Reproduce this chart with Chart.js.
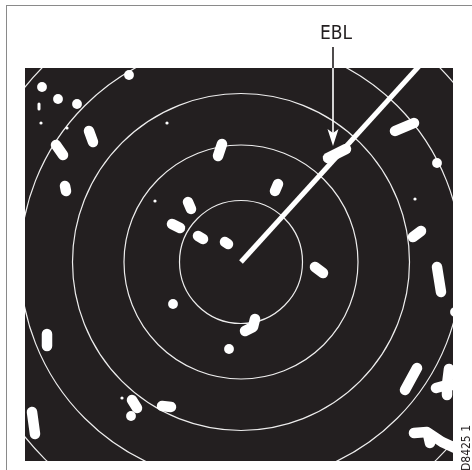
<!DOCTYPE html>
<html>
<head>
<meta charset="utf-8">
<script src="https://cdn.jsdelivr.net/npm/chart.js@4.4.1/dist/chart.umd.min.js"></script>
<style>
  html, body { margin: 0; padding: 0; background: #ffffff; }
  #wrap { position: relative; width: 472px; height: 470px; overflow: hidden; background: #ffffff; }
  #frame { position: absolute; left: 6px; top: 5px; width: 480px; height: 480px; border: 1px solid #8a8a8a; box-sizing: border-box; }
  #c { position: absolute; left: 0; top: 0; }
  #ebl { position: absolute; left: 300px; top: 23px; width: 72px; text-align: center;
         font-family: "DejaVu Sans Condensed", "DejaVu Sans", sans-serif; font-size: 19px; line-height: 19px; color: #231f20; }
  #ref { position: absolute; left: 436px; top: 442px; width: 60px; height: 12px; line-height: 12px; text-align: center;
         font-family: "DejaVu Sans Condensed", "DejaVu Sans", sans-serif; font-size: 12px; color: #231f20;
         transform: rotate(-90deg); transform-origin: 30px 6px; white-space: nowrap; }
</style>
</head>
<body>
<div id="wrap">
  <div id="frame"></div>
  <canvas id="c" width="472" height="470"></canvas>
  <div id="ebl">EBL</div>
  <div id="ref">D8425 1</div>
</div>
<script>
// ---- data (radar display units, own ship at origin) ----
const ownShip = [0, 0];
const rangeRings = [61.5, 117, 168.5, 221, 278];
const eblLine = [[0, 0], [200, 220]];
const eblArrowTip = [92, 116];
const eblArrowTail = [92, 215];

const echoDots = [
  [-112, 187], [-199, 175], [-183, 163], [-164, 158], [196, 99],
  [-68, -42], [-12, -87], [-110, -154], [214, -50]
];
const echoSpecks = [
  [-200, 139], [-174, 134], [-86, 61], [-119, -136], [-74, 139], [174, 63]
];
const echoTrails = [
  [[-152, 131], [-148, 120]],
  [[-185, 117], [-178, 107]],
  [[-176, 76], [-175, 71]],
  [[-19, 118], [-23, 106]],
  [[37, 78], [34, 71]],
  [[-53, 60], [-50, 53]],
  [[-69, 38], [-61, 34]],
  [[-43, 26], [-38, 23]],
  [[-16, 20], [-13, 18]],
  [[87, 104], [105, 113]],
  [[154, 131], [173, 139]],
  [[172, 25], [180, 31]],
  [[196, -5], [200, -30]],
  [[74, -5], [82, -11]],
  [[14, -57], [12, -65], [4, -69]],
  [[176, -106], [164, -128]],
  [[208, -107], [206, -123], [206, -133]],
  [[206, -123], [195, -126]],
  [[206, -123], [214, -123]],
  [[-109, -138], [-104, -146]],
  [[-79, -144], [-70, -145]],
  [[-209, -150], [-206, -172]],
  [[173, -171], [186, -170], [201, -180], [214, -186]],
  [[187, -172], [189, -181]],
  [[-194, -72], [-194, -84]]
];
const echoDashes = [
  [[-202, 158], [-202, 153]]
];

// ---- build ----
const toXY = p => ({ x: p[0], y: p[1] });
const SCREEN = '#231f20';

const datasets = [];
echoTrails.forEach(t => datasets.push({
  type: 'line', data: t.map(toXY), showLine: true,
  borderColor: '#ffffff', borderWidth: 10.5, borderCapStyle: 'round', borderJoinStyle: 'round',
  pointRadius: 0, fill: false, tension: 0, clip: 0
}));
echoDashes.forEach(t => datasets.push({
  type: 'line', data: t.map(toXY), showLine: true,
  borderColor: '#ffffff', borderWidth: 3, borderCapStyle: 'round',
  pointRadius: 0, fill: false, clip: 0
}));
datasets.push({
  type: 'scatter', data: echoDots.map(toXY),
  pointRadius: 4.9, pointBackgroundColor: '#ffffff', pointBorderWidth: 0, clip: 0
});
datasets.push({
  type: 'scatter', data: echoSpecks.map(toXY),
  pointRadius: 1.6, pointBackgroundColor: '#ffffff', pointBorderWidth: 0, clip: 0
});
datasets.push({
  type: 'line', data: eblLine.map(toXY), showLine: true,
  borderColor: '#ffffff', borderWidth: 5, borderCapStyle: 'butt',
  pointRadius: 0, fill: false, clip: 0
});

function drawArrow(ctx, tx, ty, sy, colour) {
  ctx.strokeStyle = colour;
  ctx.fillStyle = colour;
  ctx.lineWidth = 1.6;
  ctx.beginPath();
  ctx.moveTo(tx, sy);
  ctx.lineTo(tx, ty - 10);
  ctx.stroke();
  ctx.beginPath();
  ctx.moveTo(tx, ty);
  ctx.lineTo(tx - 5.5, ty - 17);
  ctx.lineTo(tx, ty - 13);
  ctx.lineTo(tx + 5.5, ty - 17);
  ctx.closePath();
  ctx.fill();
}

const radarFace = {
  id: 'radarFace',
  beforeDraw(chart) {
    const { ctx, chartArea: a } = chart;
    ctx.save();
    ctx.fillStyle = SCREEN;
    ctx.fillRect(a.left, a.top, a.right - a.left, a.bottom - a.top);
    ctx.restore();
  },
  beforeDatasetsDraw(chart) {
    const { ctx, chartArea: a, scales: { x, y } } = chart;
    const cx = x.getPixelForValue(ownShip[0]);
    const cy = y.getPixelForValue(ownShip[1]);
    ctx.save();
    ctx.beginPath();
    ctx.rect(a.left, a.top, a.right - a.left, a.bottom - a.top);
    ctx.clip();
    ctx.strokeStyle = 'rgba(255,255,255,0.92)';
    ctx.lineWidth = 1.2;
    rangeRings.forEach(r => {
      const pr = x.getPixelForValue(ownShip[0] + r) - cx;
      ctx.beginPath();
      ctx.arc(cx, cy, pr, 0, Math.PI * 2);
      ctx.stroke();
    });
    ctx.restore();
  },
  afterDraw(chart) {
    const { ctx, chartArea: a, scales: { x, y } } = chart;
    const tx = x.getPixelForValue(eblArrowTip[0]);
    const ty = y.getPixelForValue(eblArrowTip[1]);
    const sy = y.getPixelForValue(eblArrowTail[1]);
    // dark part above the screen
    ctx.save();
    ctx.beginPath();
    ctx.rect(0, 0, chart.width, a.top);
    ctx.clip();
    drawArrow(ctx, tx, ty, sy, SCREEN);
    ctx.restore();
    // white part on the screen
    ctx.save();
    ctx.beginPath();
    ctx.rect(a.left, a.top, a.right - a.left, a.bottom - a.top);
    ctx.clip();
    drawArrow(ctx, tx, ty, sy, '#ffffff');
    ctx.restore();
  }
};

new Chart(document.getElementById('c'), {
  type: 'scatter',
  data: { datasets },
  options: {
    responsive: false,
    animation: false,
    devicePixelRatio: 1,
    events: [],
    layout: { padding: { left: 25, right: 19, top: 68, bottom: 9 } },
    plugins: { legend: { display: false }, tooltip: { enabled: false }, title: { display: false } },
    scales: {
      x: { type: 'linear', min: -216, max: 212, display: false },
      y: { type: 'linear', min: -199, max: 194, display: false }
    }
  },
  plugins: [radarFace]
});
</script>
</body>
</html>
